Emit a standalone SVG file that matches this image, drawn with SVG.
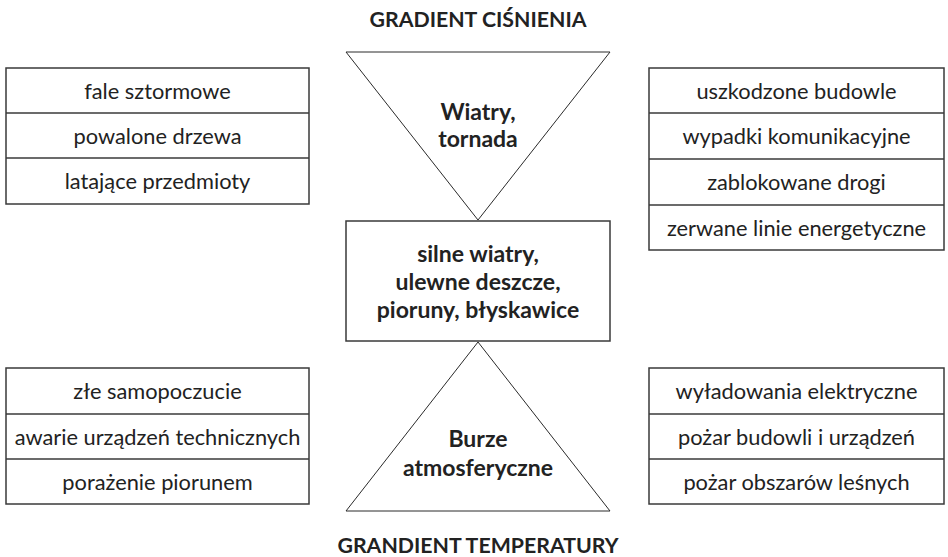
<svg xmlns="http://www.w3.org/2000/svg" width="948" height="557" viewBox="0 0 948 557">
<style>
.bx{fill:#fff;stroke:#3a3a3a;stroke-width:1.5}
.ln{fill:none;stroke:#3a3a3a;stroke-width:1.5}
.tri{fill:#fff;stroke:#2a2a2a;stroke-width:1}
.t{font-family:Lato,"Noto Sans",sans-serif;font-size:21.8px;fill:#222;text-anchor:middle}
.b{font-family:Lato,"Noto Sans",sans-serif;font-size:23px;font-weight:bold;fill:#222;text-anchor:middle}
.h{font-family:Lato,"Noto Sans",sans-serif;font-size:21.3px;font-weight:bold;fill:#222;text-anchor:middle}
</style>
<rect width="948" height="557" fill="#fff"/>
<g id="title-top"><text class="h" x="478" y="27">GRADIENT CIŚNIENIA</text></g>
<g id="title-bottom"><text class="h" x="478" y="553">GRANDIENT TEMPERATURY</text></g>
<g id="connectors"></g>
<g id="tri-top">
<polygon class="tri" points="346,52 610,52 478,220"/>
<text class="b" x="478" y="120">Wiatry,</text>
<text class="b" x="478" y="147">tornada</text>
</g>
<g id="center">
<rect class="bx" x="346" y="221" width="264" height="120"/>
<text class="b" x="478" y="262">silne wiatry,</text>
<text class="b" x="478" y="290">ulewne deszcze,</text>
<text class="b" x="478" y="318">pioruny, błyskawice</text>
</g>
<g id="tri-bottom">
<polygon class="tri" points="478,342 610,511 346,511"/>
<text class="b" x="478" y="447">Burze</text>
<text class="b" x="478" y="476">atmosferyczne</text>
</g>
<g id="left-top">
<rect class="bx" x="6" y="68" width="303" height="136"/>
<line class="ln" x1="6" y1="113" x2="309" y2="113"/>
<line class="ln" x1="6" y1="158" x2="309" y2="158"/>
<text class="t" x="157.5" y="99">fale sztormowe</text>
<text class="t" x="157.5" y="144">powalone drzewa</text>
<text class="t" x="157.5" y="189">latające przedmioty</text>
</g>
<g id="right-top">
<rect class="bx" x="649" y="68" width="295" height="182"/>
<line class="ln" x1="649" y1="113" x2="944" y2="113"/>
<line class="ln" x1="649" y1="159" x2="944" y2="159"/>
<line class="ln" x1="649" y1="205" x2="944" y2="205"/>
<text class="t" x="796.5" y="99">uszkodzone budowle</text>
<text class="t" x="796.5" y="144">wypadki komunikacyjne</text>
<text class="t" x="796.5" y="190">zablokowane drogi</text>
<text class="t" x="796.5" y="236">zerwane linie energetyczne</text>
</g>
<g id="left-bottom">
<rect class="bx" x="6" y="368" width="303" height="136"/>
<line class="ln" x1="6" y1="414" x2="309" y2="414"/>
<line class="ln" x1="6" y1="459" x2="309" y2="459"/>
<text class="t" x="157.5" y="399">złe samopoczucie</text>
<text class="t" x="157.5" y="445">awarie urządzeń technicznych</text>
<text class="t" x="157.5" y="490">porażenie piorunem</text>
</g>
<g id="right-bottom">
<rect class="bx" x="649" y="368" width="295" height="136"/>
<line class="ln" x1="649" y1="414" x2="944" y2="414"/>
<line class="ln" x1="649" y1="459" x2="944" y2="459"/>
<text class="t" x="796.5" y="399">wyładowania elektryczne</text>
<text class="t" x="796.5" y="445">pożar budowli i urządzeń</text>
<text class="t" x="796.5" y="490">pożar obszarów leśnych</text>
</g>
</svg>
